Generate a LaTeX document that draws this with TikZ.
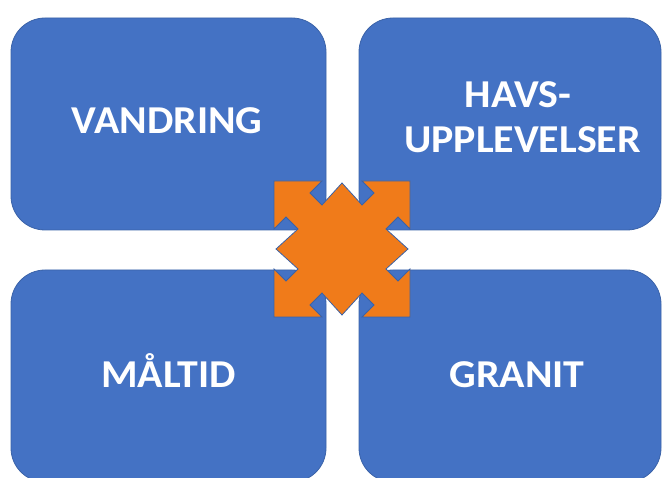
\documentclass[tikz,border=0pt]{standalone}
\usepackage{fontspec}
\setmainfont{Carlito}
\definecolor{boxblue}{HTML}{4472C4}
\definecolor{edgeblue}{HTML}{3A62A8}
\definecolor{xorange}{HTML}{F07B1A}
\begin{document}
\begin{tikzpicture}[x=1pt,y=-1pt,
  quad/.style={draw=edgeblue,line width=0.8pt,fill=boxblue,rounded corners=34pt,inner sep=0pt},
  lbl/.style={text=white,font=\bfseries\fontsize{39.5}{45}\selectfont,inner sep=0pt,anchor=base,xscale=1.06}]
\useasboundingbox (0,0) rectangle (662,478);
\clip (0,0) rectangle (662,478);
\node[quad,minimum width=315pt,minimum height=212pt] (tl) at (168.5,124) {};
\node[quad,minimum width=302pt,minimum height=212pt] (tr) at (510,124) {};
\node[quad,minimum width=315pt,minimum height=212pt] (bl) at (168.5,376) {};
\node[quad,minimum width=302pt,minimum height=212pt] (br) at (510,376) {};
\node[lbl] (t1) at (167,134) {VANDRING};
\node[lbl] (t2a) at (518,108) {HAVS-};
\node[lbl] (t2b) at (522.5,153) {UPPLEVELSER};
\node[lbl] (t3) at (168.5,388) {MÅLTID};
\node[lbl] (t4) at (517,388) {GRANIT};
\coordinate (c) at (342,249);
\draw[draw=edgeblue,line width=0.8pt,fill=xorange,line join=miter,shift={(c)}]
  (-68,-68) -- (-20,-68) -- (-32,-56) -- (-20,-44) -- (0,-66) -- (20,-44) -- (32,-56) -- (20,-68)
  -- (68,-68) -- (68,-20) -- (56,-32) -- (44,-20) -- (66,0) -- (44,20) -- (56,32) -- (68,20)
  -- (68,68) -- (20,68) -- (32,56) -- (20,44) -- (0,66) -- (-20,44) -- (-32,56) -- (-20,68)
  -- (-68,68) -- (-68,20) -- (-56,32) -- (-44,20) -- (-66,0) -- (-44,-20) -- (-56,-32) -- (-68,-20)
  -- cycle;
\end{tikzpicture}
\end{document}
